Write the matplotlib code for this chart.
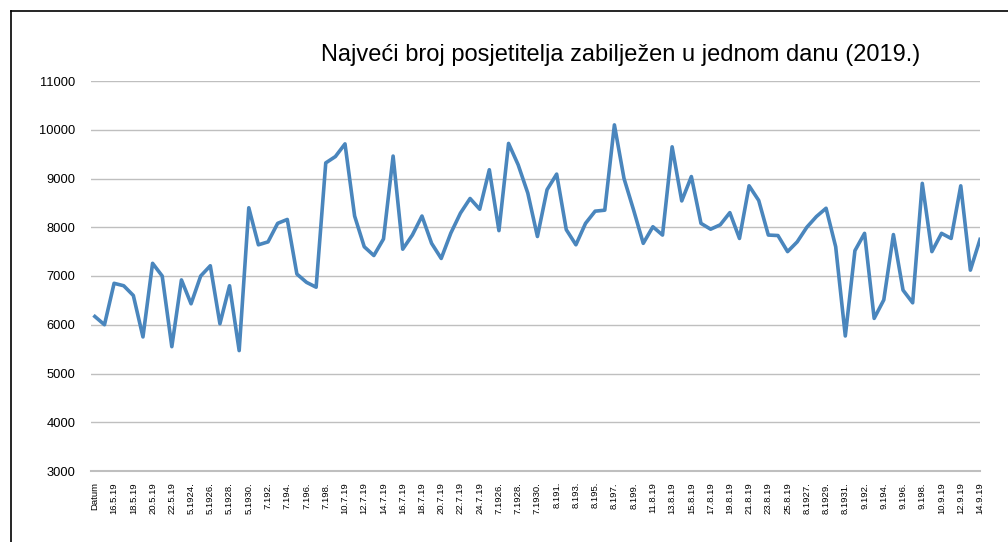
import matplotlib
matplotlib.use("Agg")
import matplotlib.pyplot as plt
from matplotlib.lines import Line2D

plt.rcParams['font.family'] = ['Liberation Sans', 'DejaVu Sans']

title = "Najveći broj posjetitelja zabilježen u jednom danu (2019.)"

visitors = [
    6170, 6000, 6850, 6800, 6600, 5750, 7260, 7000, 5550, 6920,
    6430, 7000, 7210, 6020, 6800, 5470, 8400, 7640, 7700, 8080,
    8160, 7040, 6870, 6770, 9320, 9450, 9710, 8230, 7600, 7420,
    7760, 9460, 7550, 7840, 8230, 7670, 7360, 7880, 8290, 8590,
    8370, 9180, 7930, 9720, 9280, 8700, 7810, 8770, 9090, 7950,
    7640, 8080, 8330, 8350, 10100, 9000, 8350, 7670, 8010, 7840,
    9650, 8540, 9040, 8080, 7960, 8050, 8300, 7770, 8850, 8550,
    7840, 7830, 7500, 7700, 8000, 8220, 8390, 7600, 5770, 7520,
    7875, 6130, 6510, 7850, 6710, 6450, 8900, 7500, 7875, 7770,
    8850, 7120, 7750,
]

tick_labels = [
    "Datum", "16.5.19", "18.5.19", "20.5.19", "22.5.19", "5.1924.", "5.1926.",
    "5.1928.", "5.1930.", "7.192.", "7.194.", "7.196.", "7.198.", "10.7.19",
    "12.7.19", "14.7.19", "16.7.19", "18.7.19", "20.7.19", "22.7.19", "24.7.19",
    "7.1926.", "7.1928.", "7.1930.", "8.191.", "8.193.", "8.195.", "8.197.",
    "8.199.", "11.8.19", "13.8.19", "15.8.19", "17.8.19", "19.8.19", "21.8.19",
    "23.8.19", "25.8.19", "8.1927.", "8.1929.", "8.1931.", "9.192.", "9.194.",
    "9.196.", "9.198.", "10.9.19", "12.9.19", "14.9.19",
]

y_ticks = [3000, 4000, 5000, 6000, 7000, 8000, 9000, 10000, 11000]

W, H = 1008, 542
fig = plt.figure(figsize=(W / 100, H / 100), dpi=100)
ax = fig.add_axes([91 / W, (H - 471) / H, (980 - 91) / W, (471 - 81) / H])

x = list(range(len(visitors)))
ax.plot(x, visitors, color='#4A86BD', linewidth=2.6, solid_joinstyle='round', zorder=3)

ax.set_xlim(-0.4, len(visitors) - 1)
ax.set_ylim(3000, 11000)
ax.set_yticks(y_ticks)
ax.set_yticklabels([str(v) for v in y_ticks], fontsize=9.3)
ax.set_xticks(list(range(0, len(visitors), 2))[:len(tick_labels)])
ax.set_xticklabels(tick_labels, rotation=90, fontsize=6.8)
ax.tick_params(axis='both', length=0)
ax.tick_params(axis='y', pad=11)
ax.tick_params(axis='x', pad=8)
ax.grid(axis='y', color='#BFBFBF', linewidth=1.0)
ax.set_axisbelow(True)
for s in ['left', 'right', 'top']:
    ax.spines[s].set_visible(False)
ax.spines['bottom'].set_color('#BFBFBF')
ax.spines['bottom'].set_linewidth(1.5)

fig.text(621 / W, 1 - 55 / H, title, ha='center', va='center', fontsize=17, color='#000000')

# outer frame
fx = 11 / W
fy = 1 - 11 / H
fig.add_artist(Line2D([fx, fx], [-0.01, fy], transform=fig.transFigure, color='black', linewidth=1.2))
fig.add_artist(Line2D([fx, 1.01], [fy, fy], transform=fig.transFigure, color='black', linewidth=1.2))

fig.savefig("out.png", dpi=100)
